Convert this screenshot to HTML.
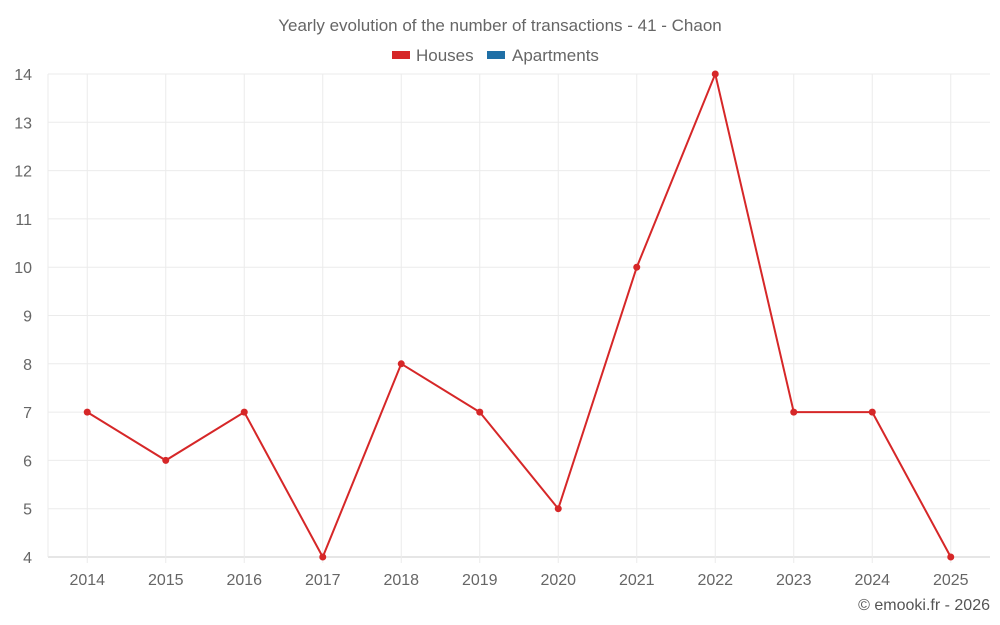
<!DOCTYPE html>
<html><head><meta charset="utf-8"><style>
html,body{margin:0;padding:0;background:#fff;}
svg{display:block;font-family:"Liberation Sans",sans-serif;}
</style></head><body>
<svg id="chart" width="1000" height="625">
<text x="500" y="31" text-anchor="middle" font-size="17" fill="#666">Yearly evolution of the number of transactions - 41 - Chaon</text>
<g><rect x="392" y="51" width="18" height="8" fill="#d62728"/><text x="416" y="61" font-size="17" fill="#666">Houses</text></g>
<g><rect x="487" y="51" width="18" height="8" fill="#1f6fa6"/><text x="512" y="61" font-size="17" fill="#666">Apartments</text></g>
<g id="grid"></g><g id="axes"></g><g id="series"></g>
<text x="990" y="610" text-anchor="end" font-size="16" fill="#555">© emooki.fr - 2026</text>
</svg>
<script>
const categories=["2014","2015","2016","2017","2018","2019","2020","2021","2022","2023","2024","2025"];
const houses=[7,6,7,4,8,7,5,10,14,7,7,4];
const yTicks=[4,5,6,7,8,9,10,11,12,13,14];
const L=48,R=990,T=74,B=557,yMin=4,yMax=14;
const NS="http://www.w3.org/2000/svg";
const bw=(R-L)/categories.length;
function x(i){return L+bw*(i+0.5);}
function y(v){return B-(v-yMin)/(yMax-yMin)*(B-T);}
function mk(tag,attrs,parent,txt){const e=document.createElementNS(NS,tag);for(const k in attrs)e.setAttribute(k,attrs[k]);if(txt!==undefined)e.textContent=txt;document.getElementById(parent).appendChild(e);return e;}
yTicks.forEach(v=>{
 const g=mk("line",{x1:L,x2:R,y1:y(v),y2:y(v),stroke:v===yMin?"#ccc":"#ebebeb","stroke-width":1},"grid");
 
 
 const t=mk("text",{x:32,y:y(v)+6,"text-anchor":"end","font-size":16,fill:"#666"},"axes",v);
 
 
});
categories.forEach((c,i)=>{
 const g=mk("line",{x1:x(i),x2:x(i),y1:T,y2:B+6,stroke:"#ebebeb","stroke-width":1},"grid");
 
 
 const t=mk("text",{x:x(i),y:585,"text-anchor":"middle","font-size":16,fill:"#666"},"axes",c);
 
 
});
const yl=mk("line",{x1:L,x2:L,y1:T,y2:B,stroke:"#ebebeb"},"grid");


const p=mk("polyline",{points:houses.map((v,i)=>x(i)+","+y(v)).join(" "),fill:"none",stroke:"#d62728","stroke-width":2},"series");


houses.forEach((v,i)=>{
 const c=mk("circle",{cx:x(i),cy:y(v),r:3.5,fill:"#d62728"},"series");
 
 
});
</script>
</body></html>
